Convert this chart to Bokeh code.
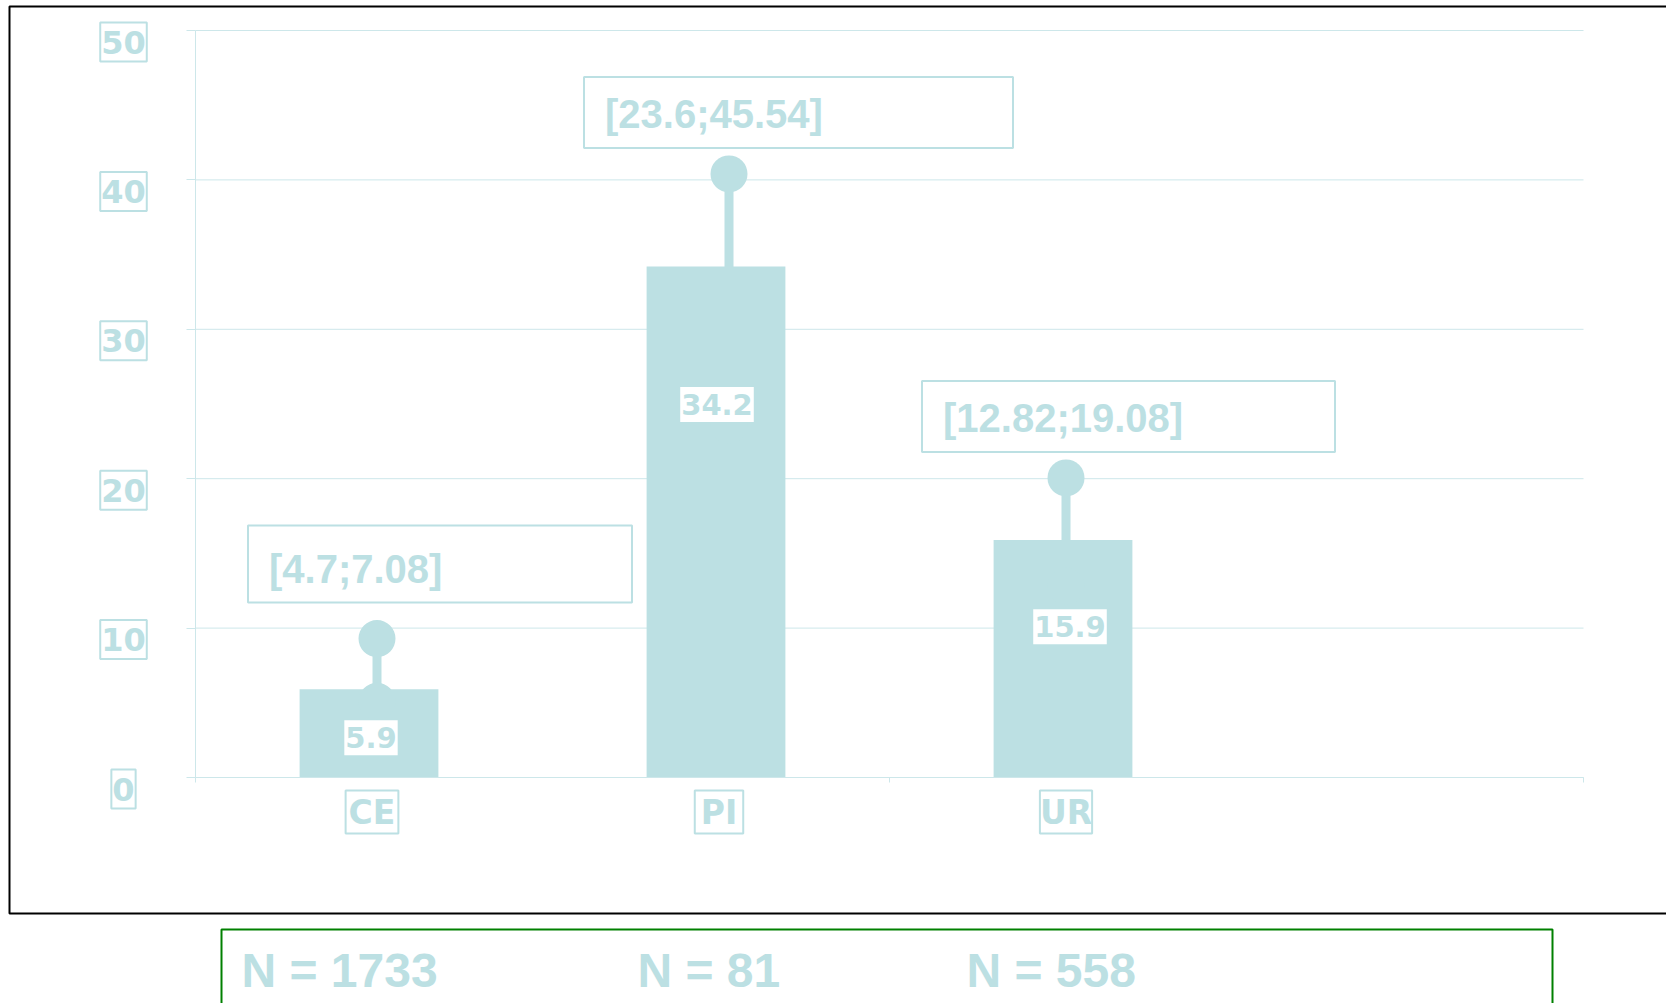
from bokeh.plotting import figure
from bokeh.models import Range1d, FixedTicker, Label
from bokeh.core.properties import value
from bokeh.embed import file_html
from bokeh.resources import INLINE

# ---------------- data ----------------
categories = ["CE", "PI", "UR"]
means = [5.9, 34.2, 15.9]
err_low = [5.1, 23.6, 12.82]      # lower end of the drawn whisker
err_high = [9.3, 40.4, 20.05]     # upper end of the drawn whisker
ci_text = ["[4.7;7.08]", "[23.6;45.54]", "[12.82;19.08]"]
n_counts = [1733, 81, 558]
y_ticks = [0, 10, 20, 30, 40, 50]
x_ticks = [0, 2, 4]

# ---------------- style / layout (page pixels) ----------------
TEAL = "#bce0e3"
GRID = "#cde7ea"
CANVAS_W, CANVAS_H = 1666, 1003
AX_X0, AX_Y0 = 195, 777          # page position of the axes origin
PX_X = 347.0                     # px per x unit (4 units -> 1388 px)
PX_Y = 747.0 / 50                # px per y unit
bar_width = 0.40
whisker_dx_px = [8, 13, 3]
value_label_frac = [0.45, 0.73, 0.635]
value_label_dx_px = [2, 1, 7]
cat_label_pad_x = [3, 6, 0]
ci_box_left_px = [-129, -145, -144]
ci_box_width_px = [384, 429, 413]
ci_box_gap_px = [36, 26, 26]
ci_box_height_px = [77, 71, 71]
n_label_x_page = [241, 637, 966]
CI_TXT_LIFT = 34                 # baseline height above box bottom (px)
N_BASELINE_PAGE = 970


def dx(px):
    return (px - AX_X0) / PX_X


def dy(py):
    return (AX_Y0 - py) / PX_Y


xs = [i + 0.5 for i in range(len(categories))]

p = figure(width=CANVAS_W, height=CANVAS_H,
           x_range=Range1d(dx(0), dx(CANVAS_W)),
           y_range=Range1d(dy(CANVAS_H), dy(0)),
           min_border=0, toolbar_location=None, output_backend="svg",
           outline_line_color=None, background_fill_color="white",
           border_fill_color="white")
p.grid.visible = False

# native axes fixed at the origin
for ax, ticks, tout, bnds in ((p.yaxis[0], y_ticks, 9, (0, 50)),
                              (p.xaxis[0], x_ticks, 5, (0, 4))):
    ax.fixed_location = 0
    ax.bounds = bnds
    ax.ticker = FixedTicker(ticks=ticks)
    ax.major_label_overrides = {t: "" for t in ticks}
    ax.major_tick_out = tout
    ax.major_tick_in = 0
    ax.minor_tick_line_color = None
    ax.axis_line_color = GRID
    ax.major_tick_line_color = GRID

# horizontal gridlines
p.segment(x0=[0] * len(y_ticks), x1=[x_ticks[-1]] * len(y_ticks),
          y0=y_ticks, y1=y_ticks, line_color=GRID, line_width=1)

# outer black frame (open on the right) and green box
p.line(x=[dx(CANVAS_W + 10), dx(9), dx(9), dx(CANVAS_W + 10)],
       y=[dy(6), dy(6), dy(913), dy(913)], line_color="black", line_width=2)
p.line(x=[dx(221), dx(221), dx(1552), dx(1552)],
       y=[dy(CANVAS_H + 10), dy(929), dy(929), dy(CANVAS_H + 10)],
       line_color="green", line_width=2)

# bars
p.vbar(x=xs, top=means, bottom=0, width=bar_width, fill_color=TEAL, line_color=None)

# whiskers with round caps
xw = [x + d / PX_X for x, d in zip(xs, whisker_dx_px)]
p.segment(x0=xw, y0=err_low, x1=xw, y1=err_high, line_color=TEAL, line_width=9)
p.scatter(x=xw, y=err_high, size=37, fill_color=TEAL, line_color=None)
p.scatter(x=xw, y=err_low, size=37, fill_color=TEAL, line_color=None)

# CI boxes + text
left = [x + o / PX_X for x, o in zip(xw, ci_box_left_px)]
right = [l + w / PX_X for l, w in zip(left, ci_box_width_px)]
bottom = [e + g / PX_Y for e, g in zip(err_high, ci_box_gap_px)]
top = [b + h / PX_Y for b, h in zip(bottom, ci_box_height_px)]
p.quad(left=left, right=right, bottom=bottom, top=top,
       fill_color=None, line_color=TEAL, line_width=2)
p.text(x=[l + 21 / PX_X for l in left],
       y=[b + CI_TXT_LIFT / PX_Y for b in bottom],
       text=ci_text, text_color=TEAL, text_font=value("Liberation Sans"),
       text_font_style="bold", text_font_size="40px",
       text_align="left", text_baseline="alphabetic")

# value labels inside bars
for x, m, f, d in zip(xs, means, value_label_frac, value_label_dx_px):
    p.add_layout(Label(x=x + d / PX_X, y=m * f, text=f"{m}", text_align="center",
                       text_baseline="middle", text_color=TEAL,
                       text_font="DejaVu Sans", text_font_style="bold",
                       text_font_size="29px", background_fill_color="white",
                       padding=(1, 7)))

# boxed y tick labels
for t in y_ticks:
    p.add_layout(Label(x=dx(123), y=t - 11.5 / PX_Y, text=str(t),
                       text_align="center", text_baseline="middle",
                       text_color=TEAL, text_font="DejaVu Sans",
                       text_font_style="bold", text_font_size="32px",
                       background_fill_color="white", border_line_color=TEAL,
                       border_line_width=2, padding=(1, 8)))

# boxed category labels
for x, c, px in zip(xs, categories, cat_label_pad_x):
    p.add_layout(Label(x=x + 3 / PX_X, y=-34.5 / PX_Y, text=c,
                       text_align="center", text_baseline="middle",
                       text_color=TEAL, text_font="DejaVu Sans",
                       text_font_style="bold", text_font_size="33px",
                       background_fill_color="white", border_line_color=TEAL,
                       border_line_width=2, padding=(px, 2)))

# N counts in the green box
p.text(x=[dx(v) for v in n_label_x_page],
       y=[dy(N_BASELINE_PAGE)] * len(n_counts),
       text=[f"N = {n}" for n in n_counts],
       text_color=TEAL, text_font=value("Liberation Sans"), text_font_style="bold",
       text_font_size="48px", text_align="left", text_baseline="alphabetic")

open("out.html", "w").write(file_html(p, INLINE))
